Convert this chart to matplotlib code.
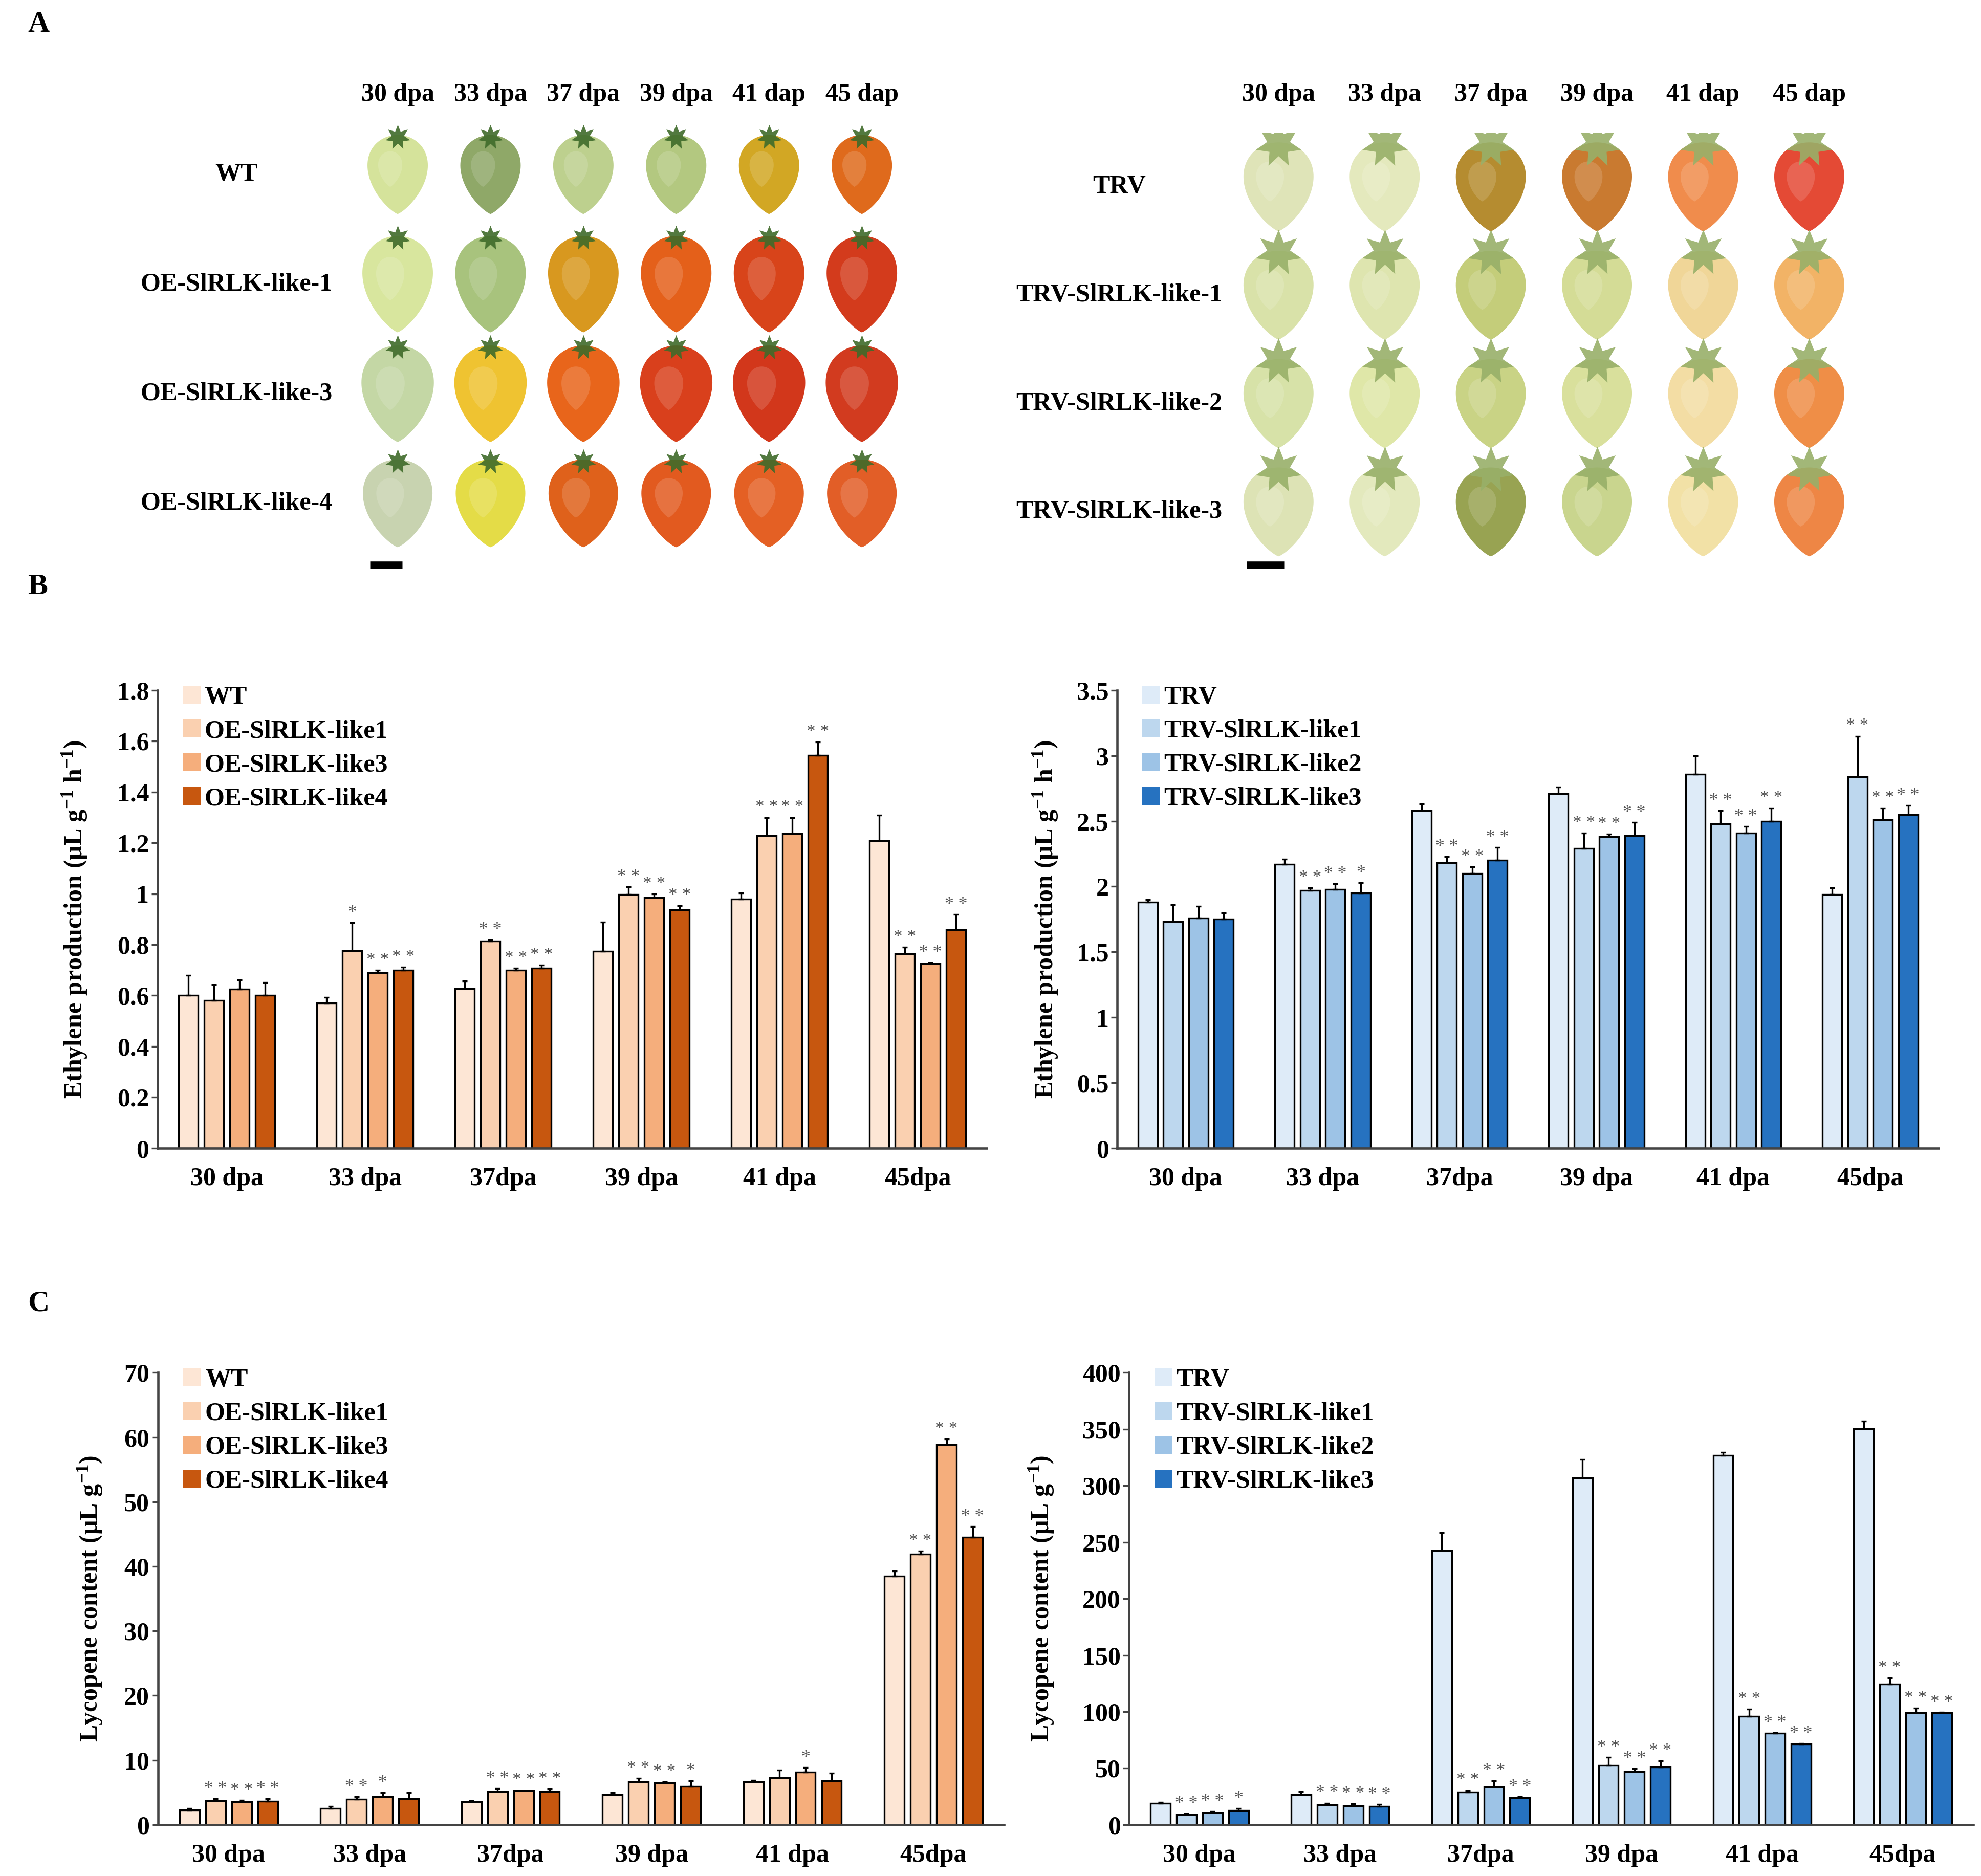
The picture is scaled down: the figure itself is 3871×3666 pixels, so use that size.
import numpy as np
import matplotlib
matplotlib.use("Agg")
import matplotlib.pyplot as plt
import matplotlib.transforms as mtransforms
from matplotlib.patches import Patch, Polygon
from matplotlib.ticker import FuncFormatter

plt.rcParams["font.family"] = ["Liberation Serif", "DejaVu Serif"]
plt.rcParams["font.weight"] = "bold"
plt.rcParams["axes.labelweight"] = "bold"
plt.rcParams["font.size"] = 12
plt.rcParams["mathtext.fontset"] = "custom"
plt.rcParams["mathtext.rm"] = "Liberation Serif:bold"
plt.rcParams["mathtext.bf"] = "Liberation Serif:bold"
plt.rcParams["mathtext.default"] = "bf"

# ---------------- data ----------------
stages = ["30 dpa", "33 dpa", "37dpa", "39 dpa", "41 dpa", "45dpa"]
photo_stages = ["30 dpa", "33 dpa", "37 dpa", "39 dpa", "41 dap", "45 dap"]

oe_lines = ["WT", "OE-SlRLK-like1", "OE-SlRLK-like3", "OE-SlRLK-like4"]
trv_lines = ["TRV", "TRV-SlRLK-like1", "TRV-SlRLK-like2", "TRV-SlRLK-like3"]
oe_rows = ["WT", "OE-SlRLK-like-1", "OE-SlRLK-like-3", "OE-SlRLK-like-4"]
trv_rows = ["TRV", "TRV-SlRLK-like-1", "TRV-SlRLK-like-2", "TRV-SlRLK-like-3"]

oe_colors = ["#fde6d5", "#fad0b0", "#f5ae7c", "#c7570f"]
trv_colors = ["#deebf8", "#bdd7ee", "#9dc3e6", "#2672c0"]

# ethylene, overexpression lines (mean, sd)
eth_oe = [
    [0.60, 0.57, 0.627, 0.773, 0.979, 1.209],
    [0.58, 0.776, 0.815, 0.997, 1.228, 0.763],
    [0.625, 0.689, 0.70, 0.985, 1.237, 0.726],
    [0.60, 0.70, 0.708, 0.936, 1.544, 0.859],
]
eth_oe_sd = [
    [0.08, 0.023, 0.031, 0.116, 0.024, 0.10],
    [0.064, 0.11, 0.005, 0.031, 0.072, 0.027],
    [0.037, 0.011, 0.007, 0.015, 0.063, 0.003],
    [0.052, 0.011, 0.012, 0.018, 0.053, 0.06],
]
eth_oe_sig = [
    ["", "", "", "", "", ""],
    ["", "*", "**", "**", "**", "**"],
    ["", "**", "**", "**", "**", "**"],
    ["", "**", "**", "**", "**", "**"],
]

# ethylene, VIGS lines
eth_trv = [
    [1.88, 2.17, 2.58, 2.71, 2.86, 1.94],
    [1.73, 1.97, 2.18, 2.29, 2.48, 2.84],
    [1.76, 1.98, 2.10, 2.38, 2.41, 2.51],
    [1.75, 1.95, 2.20, 2.39, 2.50, 2.55],
]
eth_trv_sd = [
    [0.02, 0.04, 0.05, 0.05, 0.14, 0.05],
    [0.13, 0.02, 0.05, 0.12, 0.10, 0.31],
    [0.09, 0.04, 0.05, 0.02, 0.05, 0.09],
    [0.05, 0.08, 0.10, 0.10, 0.10, 0.07],
]
eth_trv_sig = [
    ["", "", "", "", "", ""],
    ["", "**", "**", "**", "**", "**"],
    ["", "**", "**", "**", "**", "**"],
    ["", "*", "**", "**", "**", "**"],
]

# lycopene, overexpression lines
lyc_oe = [
    [2.3, 2.56, 3.53, 4.7, 6.68, 38.5],
    [3.74, 3.95, 5.18, 6.68, 7.32, 41.9],
    [3.58, 4.38, 5.29, 6.47, 8.12, 58.9],
    [3.63, 4.0, 5.13, 5.93, 6.8, 44.5],
]
lyc_oe_sd = [
    [0.26, 0.27, 0.21, 0.3, 0.22, 0.8],
    [0.26, 0.38, 0.42, 0.52, 1.18, 0.5],
    [0.22, 0.59, 0.05, 0.21, 0.78, 0.8],
    [0.37, 0.97, 0.37, 0.87, 1.2, 1.7],
]
lyc_oe_sig = [
    ["", "", "", "", "", ""],
    ["**", "**", "**", "**", "", "**"],
    ["**", "*", "**", "**", "*", "**"],
    ["**", "", "**", "*", "", "**"],
]

# lycopene, VIGS lines
lyc_trv = [
    [18.9, 26.6, 242.7, 306.9, 326.7, 350.5],
    [9.2, 17.7, 29.0, 52.5, 95.9, 124.6],
    [10.7, 16.8, 33.3, 47.0, 80.9, 98.9],
    [12.5, 16.2, 24.1, 51.0, 71.5, 98.9],
]
lyc_trv_sd = [
    [0.9, 3.0, 15.9, 16.5, 2.8, 6.5],
    [0.9, 1.5, 1.5, 7.0, 6.4, 5.2],
    [1.2, 1.5, 5.5, 2.8, 0.6, 4.3],
    [1.9, 1.8, 0.9, 5.5, 0.6, 0.6],
]
lyc_trv_sig = [
    ["", "", "", "", "", ""],
    ["**", "**", "**", "**", "**", "**"],
    ["**", "**", "**", "**", "**", "**"],
    ["*", "**", "**", "**", "**", "**"],
]

# fruit colours (rows x stages)
oe_fruit = [
    ["#d5e39b", "#8fa868", "#bdd08e", "#b3c880", "#d2a724", "#df6a1c"],
    ["#d8e69e", "#a8c37d", "#d8981f", "#e4601a", "#d8441a", "#d33b1c"],
    ["#c4d7a5", "#efc331", "#e8651b", "#d9401c", "#d2371b", "#d23b1f"],
    ["#c8d3b0", "#e4dc47", "#df611b", "#e25a1f", "#e46024", "#e25e27"],
]
trv_fruit = [
    ["#dfe4b8", "#e4e9bd", "#b58c30", "#c97a30", "#f08c4c", "#e44a35"],
    ["#d9e2a9", "#dee5af", "#c4cd7a", "#d4dc96", "#f0d698", "#f2b366"],
    ["#d7e2a8", "#dfe7a8", "#c9d385", "#d9e09c", "#f3dda4", "#ef8e47"],
    ["#dde3b5", "#e3e9bd", "#98a352", "#c9d58e", "#f2e1a6", "#ee8645"],
]

# ---------------- figure ----------------
fig = plt.figure(figsize=(3871 / 300, 3666 / 300), dpi=300)


def fruit_shape(cx, cy, w, h, m=0.6):
    t = np.linspace(0, 2 * np.pi, 120)
    xs = np.sin(t) * np.sin(t / 2) ** m
    xs = xs / np.abs(xs).max()
    ys = np.cos(t)
    return np.column_stack([cx + xs * w / 2, cy + ys * h / 2])


def photo_panel(ax, colors, rows, row_x, widths, heights, calyx_size, calyx_color,
                label_y, bar_row):
    ax.set_xlim(-0.5, 5.5)
    ax.set_ylim(3.7, -0.5)
    ax.axis("off")
    for r, row in enumerate(colors):
        for c, col in enumerate(row):
            ax.add_patch(Polygon(fruit_shape(c, r, widths[r], heights[r]),
                                 closed=True, facecolor=col, edgecolor="none", zorder=2))
            ax.add_patch(Polygon(fruit_shape(c - 0.08, r - 0.05, widths[r] * 0.4,
                                             heights[r] * 0.45),
                                 closed=True, facecolor="white", alpha=0.15,
                                 edgecolor="none", zorder=3))
        ax.scatter(np.arange(len(row)), np.full(len(row), r - heights[r] / 2 + 0.02),
                   s=calyx_size, marker=(7, 1, 0), color=calyx_color, zorder=4,
                   linewidths=0, alpha=0.9)
        ax.text(row_x, r, rows[r], transform=mtransforms.blended_transform_factory(
            fig.transFigure, ax.transData), ha="center", va="center", fontsize=12)
    for c, lab in enumerate(photo_stages):
        ax.text(c, label_y, lab, ha="center", va="center", fontsize=12, clip_on=False)
    ax.plot([-0.3, 0.05], [bar_row, bar_row], color="black", lw=3.5,
            solid_capstyle="butt", clip_on=False)


axA1 = fig.add_axes([0.1773, 0.6908, 0.2812, 0.2454])
photo_panel(axA1, oe_fruit, oe_rows, 0.1193,
            [0.65, 0.76, 0.78, 0.75], [0.72, 0.88, 0.88, 0.80],
            140, "#3f6b2a", -0.73, 3.56)

axA2 = fig.add_axes([0.6186, 0.6867, 0.3215, 0.2426])
photo_panel(axA2, trv_fruit, trv_rows, 0.565,
            [0.66, 0.66, 0.66, 0.66], [0.82, 0.82, 0.82, 0.82],
            480, "#98b069", -0.85, 3.49)


def bar_panel(ax, means, sds, sigs, colors, names, ymax, step, ylabel, label_x):
    groups = np.arange(len(stages))
    for i in range(len(means)):
        x = groups + (i - 1.5) * 0.185
        m = np.array(means[i])
        s = np.array(sds[i])
        ax.bar(x, m, width=0.141, color=colors[i], edgecolor="black",
               linewidth=0.8, zorder=2)
        ax.errorbar(x, m, yerr=[np.zeros_like(s), s], fmt="none", ecolor="black",
                    elinewidth=0.8, capsize=1.3, capthick=0.8, zorder=3)
        for xi, top, st in zip(x, m + s, sigs[i]):
            if st:
                ax.annotate(" ".join(st), (xi, top), xytext=(0, 0.5),
                            textcoords="offset points", ha="center", va="bottom",
                            fontsize=8.5, color="#555555", fontweight="normal")
    ax.set_xlim(-0.5, 5.5)
    ax.set_ylim(0, ymax)
    ax.set_yticks(np.arange(0, ymax + step / 2, step))
    ax.yaxis.set_major_formatter(FuncFormatter(lambda v, p: "%g" % round(v, 2)))
    ax.set_xticks(groups)
    ax.set_xticklabels(stages)
    ax.tick_params(axis="x", length=0, pad=9, labelsize=12)
    ax.tick_params(axis="y", direction="out", length=3, width=0.8, pad=1,
                   labelsize=12, color="#444444")
    for side in ["top", "right"]:
        ax.spines[side].set_visible(False)
    for side in ["left", "bottom"]:
        ax.spines[side].set_color("#444444")
        ax.spines[side].set_linewidth(1.1)
    ax.set_ylabel(ylabel, fontsize=12, fontweight="bold")
    ax.yaxis.set_label_coords(label_x, 0.5, transform=mtransforms.blended_transform_factory(
        fig.transFigure, ax.transAxes))
    handles = [Patch(facecolor=c, edgecolor="none") for c in colors]
    ax.legend(handles, names, loc="upper left", bbox_to_anchor=(0.03, 1.01),
              frameon=False, handlelength=0.7, handleheight=0.7, handletextpad=0.15,
              labelspacing=0.4, borderaxespad=0, borderpad=0,
              prop={"weight": "bold", "size": 12})


eth_label = r"Ethylene production (μL g$^{-1}$ h$^{-1}$)"
lyc_label = r"Lycopene content (μL g$^{-1}$)"

axB1 = fig.add_axes([0.0796, 0.388, 0.4185, 0.244])
bar_panel(axB1, eth_oe, eth_oe_sd, eth_oe_sig, oe_colors, oe_lines, 1.8, 0.2,
          eth_label, 0.045)
axB2 = fig.add_axes([0.564, 0.388, 0.4146, 0.244])
bar_panel(axB2, eth_trv, eth_trv_sd, eth_trv_sig, trv_colors, trv_lines, 3.5, 0.5,
          eth_label, 0.535)
axC1 = fig.add_axes([0.0798, 0.0273, 0.427, 0.241])
bar_panel(axC1, lyc_oe, lyc_oe_sd, lyc_oe_sig, oe_colors, oe_lines, 70, 10,
          lyc_label, 0.0527)
axC2 = fig.add_axes([0.570, 0.0273, 0.426, 0.241])
bar_panel(axC2, lyc_trv, lyc_trv_sd, lyc_trv_sig, trv_colors, trv_lines, 400, 50,
          lyc_label, 0.533)

for letter, y in [("A", 0.987), ("B", 0.687), ("C", 0.305)]:
    fig.text(0.014, y, letter, fontsize=14, fontweight="bold", ha="left", va="center")

fig.savefig("out.png", dpi=300)
